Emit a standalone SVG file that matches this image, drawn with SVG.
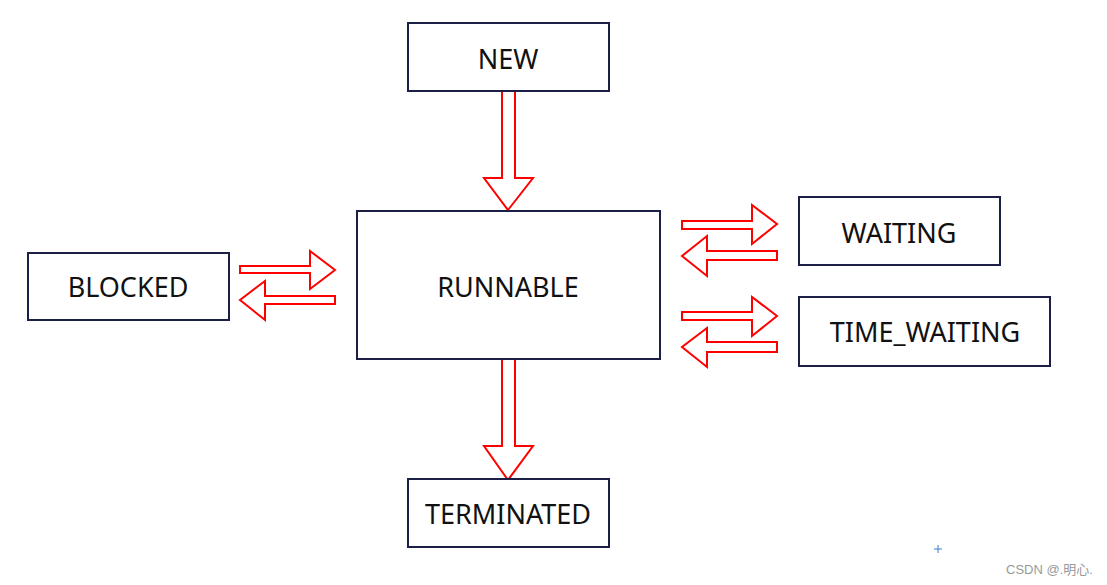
<svg xmlns="http://www.w3.org/2000/svg" width="1107" height="585" viewBox="0 0 1107 585">
<style>
.box{fill:#fff;stroke:#1c1f45;stroke-width:2}
.lbl{font-family:"Noto Sans","Open Sans",sans-serif;font-size:27px;fill:#111;text-anchor:middle}
.arr{fill:#fff;stroke:#ff0000;stroke-width:2;stroke-linejoin:miter}
.wm{font-family:"Liberation Sans","Noto Sans CJK SC",sans-serif;font-size:13px;fill:#999}
</style>
<rect width="1107" height="585" fill="#fff"/>
<g id="connectors">
<polygon class="arr" points="502,91 515,91 515,178 533,178 508,210 484,178 502,178"/>
<polygon class="arr" points="502,359 515,359 515,446 533,446 508,480 484,446 502,446"/>
<polygon class="arr" points="240,266 310,266 310,251 335,270 310,289 310,273 240,273"/>
<polygon class="arr" points="335,296 265,296 265,281 240,300 265,320 265,304 335,304"/>
<polygon class="arr" points="682,221 752,221 752,205 777,224 752,244 752,229 682,229"/>
<polygon class="arr" points="777,251 707,251 707,236 682,256 707,276 707,260 777,260"/>
<polygon class="arr" points="682,312 752,312 752,297 777,316 752,336 752,320 682,320"/>
<polygon class="arr" points="777,342 707,342 707,328 682,347 707,367 707,352 777,352"/>
</g>
<g id="new"><rect class="box" x="408" y="23" width="201" height="68"/><text class="lbl" x="508" y="69">NEW</text></g>
<g id="runnable"><rect class="box" x="357" y="211" width="303" height="148"/><text class="lbl" x="508" y="297">RUNNABLE</text></g>
<g id="blocked"><rect class="box" x="28" y="253" width="201" height="67"/><text class="lbl" x="128" y="297">BLOCKED</text></g>
<g id="waiting"><rect class="box" x="799" y="197" width="201" height="68"/><text class="lbl" x="899" y="243">WAITING</text></g>
<g id="time_waiting"><rect class="box" x="799" y="297" width="251" height="69"/><text class="lbl" x="925" y="342">TIME_WAITING</text></g>
<g id="terminated"><rect class="box" x="408" y="479" width="201" height="68"/><text class="lbl" x="508" y="524">TERMINATED</text></g>
<g id="cursor" stroke="#3a7bd5" stroke-width="1"><line x1="934" y1="549" x2="942" y2="549"/><line x1="938" y1="545" x2="938" y2="553"/></g>
<text class="wm" x="1006" y="574">CSDN @.明心.</text>
</svg>
